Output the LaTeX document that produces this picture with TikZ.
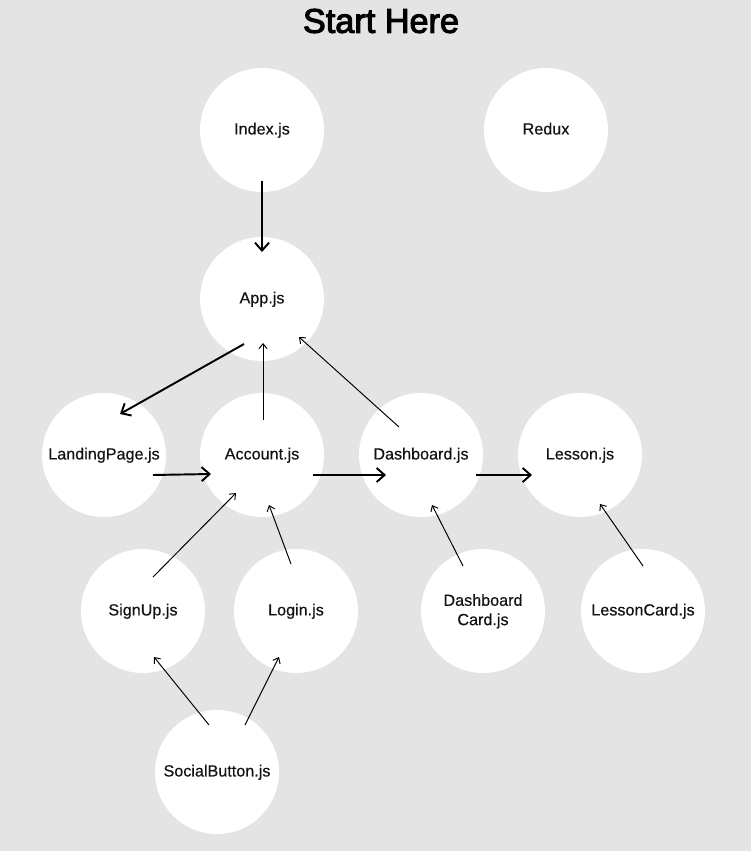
\documentclass[tikz,border=0pt]{standalone}
\usepackage{fontspec}
\setmainfont{Liberation Sans}
\newfontfamily\labelfont[FakeBold=0.35]{Liberation Sans}
\newfontfamily\titlefont[FakeBold=3]{Liberation Sans}
\usetikzlibrary{arrows.meta,calc}
\definecolor{bggray}{HTML}{E4E4E4}

\begin{document}
\begin{tikzpicture}[
    x=0.02cm, y=-0.02cm,
    comp/.style={circle, fill=white, minimum size=2.48cm, inner sep=0pt, align=center, font=\labelfont\fontsize{9.2}{11}\selectfont, text=black!93, text depth=0.3ex},
    arr/.style={-{Straight Barb[length=4.5pt, width=8pt]}, line width=1.1pt},
    tarr/.style={-{Straight Barb[length=2.8pt, width=4.6pt]}, line width=0.55pt}
]
\fill[bggray] (0,0) rectangle (751,851);
\useasboundingbox (0,0) rectangle (751,851);

\node[font=\titlefont\fontsize{19.5}{22}\selectfont] (title) at (381,21) {Start Here};

\node[comp] (Index) at (262,130) {Index.js};
\node[comp] (Redux) at (546,130) {Redux};
\node[comp] (App) at (262,299) {App.js};
\node[comp] (Landing) at (104,455) {LandingPage.js};
\node[comp] (Account) at (262,455) {Account.js};
\node[comp] (Dash) at (421,455) {Dashboard.js};
\node[comp] (Lesson) at (580,455) {Lesson.js};
\node[comp] (SignUp) at (143,611) {SignUp.js};
\node[comp] (Login) at (296,611) {Login.js};
\node[comp] (DCard) at (483,611) {Dashboard\\Card.js};
\node[comp] (LCard) at (643,611) {LessonCard.js};
\node[comp] (Social) at (217,772) {SocialButton.js};

% main flow
\draw[arr] ($(Index)+(0,51)$) -- ($(App)+(0,-47)$);
\draw[arr] ($(App)+(-18,45)$) -- ($(Landing)+(16,-41)$);
\draw[arr] ($(Landing)+(49,20)$) -- ($(Account)+(-51,19)$);
\draw[arr] ($(Account)+(51,20)$) -- ($(Dash)+(-35,20)$);
\draw[arr] ($(Dash)+(55,20)$) -- ($(Lesson)+(-48,20)$);

% children back to parents
\draw[tarr] ($(Account)+(1,-35)$) -- ($(App)+(1,44)$);
\draw[tarr] ($(Dash)+(-22,-28)$) -- ($(App)+(37,38)$);
\draw[tarr] ($(SignUp)+(10,-34)$) -- ($(Account)+(-26,38)$);
\draw[tarr] ($(Login)+(-5,-47)$) -- ($(Account)+(7,50)$);
\draw[tarr] ($(DCard)+(-20,-45)$) -- ($(Dash)+(11,50)$);
\draw[tarr] ($(LCard)+(0,-45)$) -- ($(Lesson)+(20,49)$);
\draw[tarr] ($(Social)+(-8,-47)$) -- ($(SignUp)+(11,46)$);
\draw[tarr] ($(Social)+(28,-47)$) -- ($(Login)+(-17,46)$);
\end{tikzpicture}
\end{document}
